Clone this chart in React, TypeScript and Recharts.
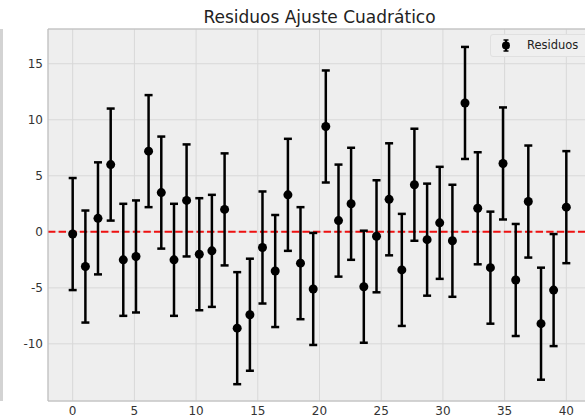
import React from 'react';
import {
  ScatterChart,
  Scatter,
  ErrorBar,
  XAxis,
  YAxis,
  CartesianGrid,
  ReferenceLine,
} from 'recharts';

// x positions of the 40 samples
const xValues = [
  0, 1.03, 2.05, 3.08, 4.1, 5.13, 6.15, 7.18, 8.21, 9.23,
  10.26, 11.28, 12.31, 13.33, 14.36, 15.38, 16.41, 17.44, 18.46, 19.49,
  20.51, 21.54, 22.56, 23.59, 24.62, 25.64, 26.67, 27.69, 28.72, 29.74,
  30.77, 31.79, 32.82, 33.85, 34.87, 35.9, 36.92, 37.95, 38.97, 40,
];

const residuals = [
  -0.2, -3.1, 1.2, 6.0, -2.5, -2.2, 7.2, 3.5, -2.5, 2.8,
  -2.0, -1.7, 2.0, -8.6, -7.4, -1.4, -3.5, 3.3, -2.8, -5.1,
  9.4, 1.0, 2.5, -4.9, -0.4, 2.9, -3.4, 4.2, -0.7, 0.8,
  -0.8, 11.5, 2.1, -3.2, 6.1, -4.3, 2.7, -8.2, -5.2, 2.2,
];

const errors = [
  5, 5, 5, 5, 5, 5, 5, 5, 5, 5,
  5, 5, 5, 5, 5, 5, 5, 5, 5, 5,
  5, 5, 5, 5, 5, 5, 5, 5, 5, 5,
  5, 5, 5, 5, 5, 5, 5, 5, 5, 5,
];

const xTicks = [0, 5, 10, 15, 20, 25, 30, 35, 40];
const yTicks = [-10, -5, 0, 5, 10, 15];

const X_DOMAIN: [number, number] = [-2, 42];
const Y_DOMAIN: [number, number] = [-15.1, 18.1];

const data = xValues.map((x, i) => ({ x, y: residuals[i], err: errors[i] }));

const FONT = '"DejaVu Sans", sans-serif';

const Dot = (props: any) => {
  if (props.cx == null || props.cy == null) return null;
  return <circle cx={props.cx} cy={props.cy} r={4.5} fill="#000" />;
};

const App: React.FC = () => {
  return (
    <div style={{ position: 'relative', width: 585, height: 419, overflow: 'hidden', fontFamily: FONT }}>
      <style>{'body { margin: 0; overflow: hidden; }'}</style>

      {/* thin grey strip at the far left edge */}
      <div style={{ position: 'absolute', left: 0, top: 29, width: 3, height: 372, background: '#d3d3d3' }} />

      <div
        style={{
          position: 'absolute',
          left: 0,
          top: 9,
          width: 639,
          textAlign: 'center',
          fontSize: 17,
          lineHeight: '17px',
          color: '#222',
        }}
      >
        Residuos Ajuste Cuadrático
      </div>

      <ScatterChart width={591} height={419} margin={{ top: 29, right: 0, bottom: 0, left: 0 }}>
        <CartesianGrid fill="#eeeeee" stroke="#d8d8d8" strokeWidth={1} />
        <XAxis
          type="number"
          dataKey="x"
          domain={X_DOMAIN}
          ticks={xTicks}
          allowDataOverflow
          height={18}
          tickLine={false}
          tickSize={3}
          tickMargin={2}
          axisLine={{ stroke: '#bcbcbc' }}
          tick={{ fontSize: 12, fill: '#333', fontFamily: FONT }}
        />
        <YAxis
          type="number"
          dataKey="y"
          domain={Y_DOMAIN}
          ticks={yTicks}
          allowDataOverflow
          width={48}
          tickLine={false}
          tickSize={3}
          tickMargin={2}
          axisLine={{ stroke: '#bcbcbc' }}
          tick={{ fontSize: 12, fill: '#333', fontFamily: FONT }}
        />
        <ReferenceLine y={Y_DOMAIN[1]} stroke="#bcbcbc" strokeWidth={1} />
        <ReferenceLine y={0} stroke="#ee1111" strokeWidth={2} strokeDasharray="7.4 3.2" />
        <Scatter data={data} dataKey="y" shape={Dot} isAnimationActive={false}>
          <ErrorBar dataKey="err" direction="y" width={4} stroke="#000" strokeWidth={2.5} />
        </Scatter>
      </ScatterChart>

      <div
        style={{
          position: 'absolute',
          left: 490,
          top: 34,
          width: 110,
          height: 21,
          background: '#efefef',
          border: '1px solid #e0e0e0',
          borderRadius: 3,
        }}
      >
        <svg width={14} height={21} style={{ position: 'absolute', left: 8, top: 0 }}>
          <line x1={7} y1={5} x2={7} y2={16} stroke="#000" strokeWidth={2} />
          <line x1={4.5} y1={5} x2={9.5} y2={5} stroke="#000" strokeWidth={1.5} />
          <line x1={4.5} y1={16} x2={9.5} y2={16} stroke="#000" strokeWidth={1.5} />
          <circle cx={7} cy={10.5} r={4} fill="#000" />
        </svg>
        <span
          style={{
            position: 'absolute',
            left: 36,
            top: 3,
            fontSize: 11.5,
            lineHeight: '14px',
            color: '#222',
            whiteSpace: 'nowrap',
          }}
        >
          Residuos
        </span>
      </div>
    </div>
  );
};

export default App;
